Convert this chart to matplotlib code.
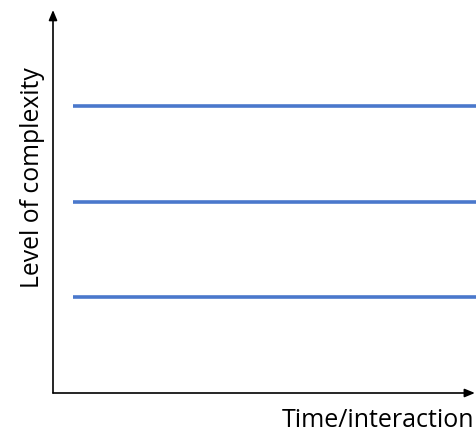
import matplotlib.pyplot as plt

# data
levels = [1, 2, 3]
x_label = "Time/interaction"
y_label = "Level of complexity"
line_color = "#4a78cc"

plt.rcParams["font.family"] = ["Open Sans", "DejaVu Sans"]

W, H = 477, 434
fig = plt.figure(figsize=(W / 100, H / 100), dpi=100)

# axes box in pixel coordinates of the picture
left, right, top, bottom = 53, 477, 10, 393
ax = fig.add_axes([left / W, (H - bottom) / H, (right - left) / W, (bottom - top) / H])
ax.set_xlim(0, 1)
ax.set_ylim(0, 4)
for s in ax.spines.values():
    s.set_visible(False)
ax.set_xticks([])
ax.set_yticks([])
ax.patch.set_alpha(0)

for lv in levels:
    ax.hlines(lv, 0.048, 0.998, color=line_color, linewidth=2.6)

# axis arrows
arrow = dict(arrowstyle="-|>,head_length=0.6,head_width=0.25", color="black", lw=1.2,
             shrinkA=0, shrinkB=0)
ax.annotate("", xy=(0, 1), xytext=(0, 0), xycoords="axes fraction", arrowprops=arrow)
ax.annotate("", xy=(0.995, 0), xytext=(0, 0), xycoords="axes fraction", arrowprops=arrow)

fig.text(39 / W, 1 - 178 / H, y_label, rotation=90, rotation_mode="anchor",
         ha="center", va="baseline", fontsize=17.8)
fig.text(474 / W, 1 - 427 / H, x_label, ha="right", va="baseline", fontsize=18)

fig.savefig("out.png", dpi=100)
